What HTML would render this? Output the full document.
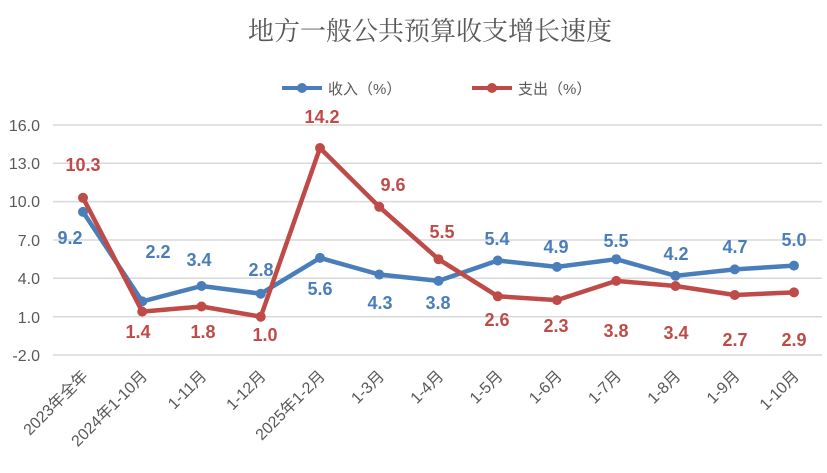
<!DOCTYPE html>
<html><head><meta charset="utf-8"><style>body{margin:0;background:#fff}svg{display:block}</style></head><body>
<svg width="827" height="473" xmlns="http://www.w3.org/2000/svg" font-family="'Liberation Sans','Noto Sans CJK SC',sans-serif">
<text x="430" y="40" text-anchor="middle" font-size="26" fill="#595959" font-family="'Liberation Serif','Noto Serif CJK SC',serif">地方一般公共预算收支增长速度</text>
<line x1="282" y1="88" x2="322" y2="88" stroke="#4a7ebb" stroke-width="4"/><circle cx="302" cy="88" r="5" fill="#4a7ebb"/>
<text x="328" y="94" font-size="15" fill="#595959">收入（%）</text>
<line x1="472" y1="88" x2="512" y2="88" stroke="#be4b48" stroke-width="4"/><circle cx="492" cy="88" r="5" fill="#be4b48"/>
<text x="518" y="94" font-size="15" fill="#595959">支出（%）</text>
<g stroke="#d9d9d9" stroke-width="1.5">
<line x1="53" x2="822" y1="125" y2="125"/><line x1="53" x2="822" y1="163.3" y2="163.3"/><line x1="53" x2="822" y1="201.6" y2="201.6"/><line x1="53" x2="822" y1="240" y2="240"/><line x1="53" x2="822" y1="278.3" y2="278.3"/><line x1="53" x2="822" y1="316.7" y2="316.7"/><line x1="53" x2="822" y1="355" y2="355"/>
</g>
<g font-size="16" fill="#595959" text-anchor="end">
<text x="40" y="131">16.0</text><text x="40" y="169">13.0</text><text x="40" y="207">10.0</text><text x="40" y="246">7.0</text><text x="40" y="284">4.0</text><text x="40" y="323">1.0</text><text x="40" y="361">-2.0</text>
</g>
<polyline points="83,211.9 142.25,301.4 201.5,286 260.75,293.7 320,257.9 379.25,274.5 438.5,280.9 497.75,260.5 557,266.9 616.25,259.2 675.5,275.8 734.75,269.4 794,265.6" fill="none" stroke="#4a7ebb" stroke-width="4.5" stroke-linejoin="round"/>
<g fill="#4a7ebb">
<circle cx="83" cy="211.9" r="5"/><circle cx="142.25" cy="301.4" r="5"/><circle cx="201.5" cy="286" r="5"/><circle cx="260.75" cy="293.7" r="5"/><circle cx="320" cy="257.9" r="5"/><circle cx="379.25" cy="274.5" r="5"/><circle cx="438.5" cy="280.9" r="5"/><circle cx="497.75" cy="260.5" r="5"/><circle cx="557" cy="266.9" r="5"/><circle cx="616.25" cy="259.2" r="5"/><circle cx="675.5" cy="275.8" r="5"/><circle cx="734.75" cy="269.4" r="5"/><circle cx="794" cy="265.6" r="5"/>
</g>
<polyline points="83,197.8 142.25,311.6 201.5,306.5 260.75,316.7 320,148 379.25,206.8 438.5,259.2 497.75,296.3 557,300.1 616.25,280.9 675.5,286 734.75,295 794,292.4" fill="none" stroke="#be4b48" stroke-width="4.5" stroke-linejoin="round"/>
<g fill="#be4b48">
<circle cx="83" cy="197.8" r="5"/><circle cx="142.25" cy="311.6" r="5"/><circle cx="201.5" cy="306.5" r="5"/><circle cx="260.75" cy="316.7" r="5"/><circle cx="320" cy="148" r="5"/><circle cx="379.25" cy="206.8" r="5"/><circle cx="438.5" cy="259.2" r="5"/><circle cx="497.75" cy="296.3" r="5"/><circle cx="557" cy="300.1" r="5"/><circle cx="616.25" cy="280.9" r="5"/><circle cx="675.5" cy="286" r="5"/><circle cx="734.75" cy="295" r="5"/><circle cx="794" cy="292.4" r="5"/>
</g>
<g font-size="18" font-weight="bold" fill="#4a7ebb" text-anchor="middle">
<text x="70" y="244">9.2</text><text x="158" y="258">2.2</text><text x="199" y="266">3.4</text><text x="261" y="276">2.8</text><text x="320" y="295">5.6</text><text x="380" y="309">4.3</text><text x="438" y="309">3.8</text><text x="497" y="245">5.4</text><text x="556" y="253">4.9</text><text x="616" y="247">5.5</text><text x="676" y="260">4.2</text><text x="735" y="253">4.7</text><text x="794" y="246">5.0</text>
</g>
<g font-size="18" font-weight="bold" fill="#be4b48" text-anchor="middle">
<text x="83" y="171">10.3</text><text x="138" y="338">1.4</text><text x="203" y="338">1.8</text><text x="265" y="341">1.0</text><text x="322" y="123">14.2</text><text x="393" y="191">9.6</text><text x="442" y="238">5.5</text><text x="497" y="326">2.6</text><text x="556" y="332">2.3</text><text x="616" y="337">3.8</text><text x="676" y="339">3.4</text><text x="735" y="346">2.7</text><text x="794" y="346">2.9</text>
</g>
<g font-size="16" fill="#595959" text-anchor="end">
<text x="89" y="377" transform="rotate(-45 89 377)">2023年全年</text>
<text x="148.25" y="377" transform="rotate(-45 148.25 377)">2024年1-10月</text>
<text x="207.5" y="377" transform="rotate(-45 207.5 377)">1-11月</text>
<text x="266.75" y="377" transform="rotate(-45 266.75 377)">1-12月</text>
<text x="326" y="377" transform="rotate(-45 326 377)">2025年1-2月</text>
<text x="385.25" y="377" transform="rotate(-45 385.25 377)">1-3月</text>
<text x="444.5" y="377" transform="rotate(-45 444.5 377)">1-4月</text>
<text x="503.75" y="377" transform="rotate(-45 503.75 377)">1-5月</text>
<text x="563" y="377" transform="rotate(-45 563 377)">1-6月</text>
<text x="622.25" y="377" transform="rotate(-45 622.25 377)">1-7月</text>
<text x="681.5" y="377" transform="rotate(-45 681.5 377)">1-8月</text>
<text x="740.75" y="377" transform="rotate(-45 740.75 377)">1-9月</text>
<text x="800" y="377" transform="rotate(-45 800 377)">1-10月</text>
</g>
</svg>
</body></html>
